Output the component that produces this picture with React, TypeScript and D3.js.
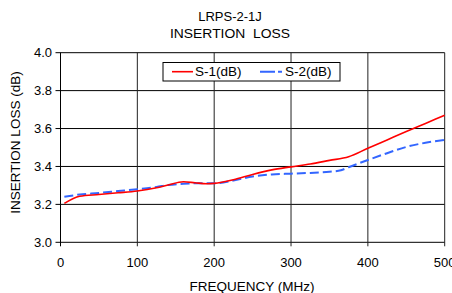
import React, { useEffect, useRef } from 'react'
import * as d3 from 'd3'

// frequency (MHz)
const freqS1 = [5, 25, 50, 75, 100, 125, 140, 160, 175, 190, 200, 225, 250, 275, 300, 325, 350, 375, 400, 425, 450, 475, 500]
const lossS1 = [3.205, 3.243, 3.252, 3.261, 3.271, 3.288, 3.302, 3.319, 3.314, 3.309, 3.311, 3.33, 3.358, 3.382, 3.398, 3.413, 3.432, 3.451, 3.496, 3.54, 3.584, 3.627, 3.67]

const freqS2 = [5, 25, 50, 75, 100, 125, 140, 160, 175, 200, 225, 250, 275, 300, 325, 350, 365, 375, 400, 425, 450, 475, 500]
const lossS2 = [3.24, 3.252, 3.26, 3.27, 3.28, 3.292, 3.302, 3.309, 3.311, 3.311, 3.326, 3.347, 3.358, 3.362, 3.366, 3.372, 3.38, 3.396, 3.434, 3.47, 3.503, 3.525, 3.54]

const xTicks = [0, 100, 200, 300, 400, 500]
const yTicks = [3.0, 3.2, 3.4, 3.6, 3.8, 4.0]

const App = () => {
     const svgRef = useRef<SVGSVGElement>(null)

     useEffect(() => {
          const width = 452
          const height = 293
          const plot = { left: 60.5, right: 444.7, top: 52.7, bottom: 242.3 }
          const font = 'Liberation Sans, Arial, sans-serif'

          const svg = d3.select(svgRef.current)
          svg.selectAll('*').remove()
          svg.attr('width', width).attr('height', height)

          svg.append('rect').attr('width', width).attr('height', height).attr('fill', '#fff')

          const x = d3.scaleLinear().domain([0, 500]).range([plot.left, plot.right])
          const y = d3.scaleLinear().domain([3.0, 4.0]).range([plot.bottom, plot.top])

          const grid = svg.append('g')
          yTicks.forEach((t) => {
               grid.append('line')
                    .attr('x1', plot.left - 5)
                    .attr('x2', plot.right)
                    .attr('y1', y(t))
                    .attr('y2', y(t))
                    .attr('stroke', '#000')
                    .attr('stroke-width', 1)
          })
          xTicks.forEach((t) => {
               grid.append('line')
                    .attr('x1', x(t))
                    .attr('x2', x(t))
                    .attr('y1', plot.top)
                    .attr('y2', plot.bottom + 4)
                    .attr('stroke', t === 0 ? '#000' : '#222')
                    .attr('stroke-width', 1)
          })

          svg.append('g')
               .selectAll('text')
               .data(yTicks)
               .enter()
               .append('text')
               .attr('x', 52)
               .attr('y', (d) => y(d) + 4.6)
               .attr('text-anchor', 'end')
               .style('font-family', font)
               .style('font-size', '13px')
               .text((d) => d.toFixed(1))

          svg.append('g')
               .selectAll('text')
               .data(xTicks)
               .enter()
               .append('text')
               .attr('x', (d) => x(d))
               .attr('y', 267)
               .attr('text-anchor', 'middle')
               .style('font-family', font)
               .style('font-size', '13px')
               .text((d) => d)

          const line = d3
               .line<[number, number]>()
               .x((d) => x(d[0]))
               .y((d) => y(d[1]))
               .curve(d3.curveMonotoneX)

          const s1 = freqS1.map((f, i) => [f, lossS1[i]] as [number, number])
          const s2 = freqS2.map((f, i) => [f, lossS2[i]] as [number, number])

          svg.append('path')
               .attr('d', line(s2))
               .attr('fill', 'none')
               .attr('stroke', '#3366ff')
               .attr('stroke-width', 2)
               .attr('stroke-dasharray', '9,4')
          svg.append('path')
               .attr('d', line(s1))
               .attr('fill', 'none')
               .attr('stroke', '#ff0000')
               .attr('stroke-width', 1.6)

          // legend
          const lg = svg.append('g')
          lg.append('rect')
               .attr('x', 163)
               .attr('y', 62.5)
               .attr('width', 177)
               .attr('height', 18.5)
               .attr('fill', '#fff')
               .attr('stroke', '#000')
               .attr('stroke-width', 1)
          lg.append('line')
               .attr('x1', 172).attr('x2', 193)
               .attr('y1', 71.7).attr('y2', 71.7)
               .attr('stroke', '#ff0000').attr('stroke-width', 1.6)
          lg.append('text')
               .attr('x', 195).attr('y', 76)
               .style('font-family', font).style('font-size', '13.5px')
               .text('S-1(dB)')
          lg.append('line')
               .attr('x1', 260).attr('x2', 282)
               .attr('y1', 71.7).attr('y2', 71.7)
               .attr('stroke', '#3366ff').attr('stroke-width', 2)
               .attr('stroke-dasharray', '15,3')
          lg.append('text')
               .attr('x', 285).attr('y', 76)
               .style('font-family', font).style('font-size', '13.5px')
               .text('S-2(dB)')

          // titles
          svg.append('text')
               .attr('x', 230).attr('y', 21.3)
               .attr('text-anchor', 'middle')
               .style('font-family', font).style('font-size', '13px')
               .text('LRPS-2-1J')
          svg.append('text')
               .attr('x', 230).attr('y', 37.7)
               .attr('text-anchor', 'middle')
               .attr('textLength', 120)
               .attr('lengthAdjust', 'spacingAndGlyphs')
               .style('font-family', font).style('font-size', '13px')
               .style('white-space', 'pre')
               .text('INSERTION  LOSS')

          svg.append('text')
               .attr('x', 252).attr('y', 290.5)
               .attr('text-anchor', 'middle')
               .style('font-family', font).style('font-size', '13.5px')
               .text('FREQUENCY (MHz)')

          svg.append('text')
               .attr('transform', 'translate(20,142.5) rotate(-90)')
               .attr('text-anchor', 'middle')
               .style('font-family', font).style('font-size', '13.5px')
               .text('INSERTION LOSS (dB)')
     }, [])

     return (
          <div style={{ position: 'absolute', left: 0, top: 0 }}>
               <svg ref={svgRef} style={{ display: 'block' }}></svg>
          </div>
     )
}

export default App
